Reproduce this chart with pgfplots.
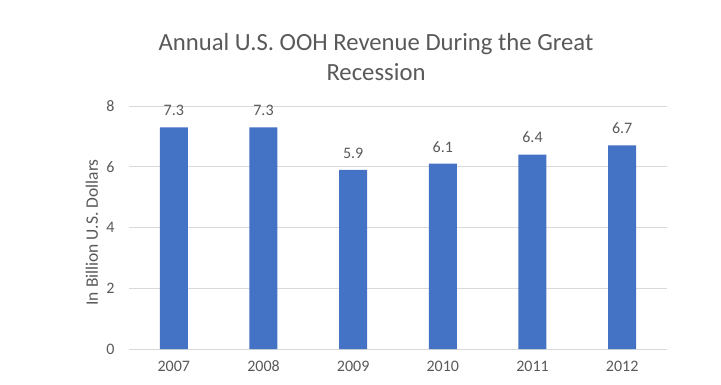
\documentclass[border=0pt]{standalone}
\usepackage{pgfplots}
\pgfplotsset{compat=1.18}
\usepackage{fontspec}
\setmainfont{Carlito}
\definecolor{barblue}{HTML}{4472C4}
\definecolor{txtgray}{HTML}{595959}
\definecolor{gridgray}{HTML}{D9D9D9}
\begin{document}
\begin{tikzpicture}[x=1pt,y=1pt]
\path[use as bounding box] (0,0) rectangle (721,384);
\node[txtgray,font=\fontsize{24.7}{30}\selectfont,align=center] at (376,327) {Annual U.S. OOH Revenue During the Great\\Recession};
\begin{axis}[
  at={(129pt,35pt)}, anchor=south west,
  scale only axis, width=538pt, height=243pt,
  xmin=-0.5, xmax=5.5, ymin=0, ymax=8,
  xtick={0,1,2,3,4,5},
  xticklabels={2007,2008,2009,2010,2011,2012},
  ytick={0,2,4,6,8},
  ymajorgrids, grid style={gridgray, line width=0.8pt},
  axis line style={draw=none},
  axis x line*=bottom,
  x axis line style={gridgray, line width=0.8pt},
  major tick length=0pt,
  tick label style={txtgray, font=\fontsize{16}{19}\selectfont},
  /pgf/number format/assume math mode=true,
  yticklabel style={xshift=-11pt},
  xticklabel style={anchor=north, text height=11pt, text depth=0pt, yshift=-8pt},
  ylabel={In Billion U.S. Dollars},
  ylabel style={txtgray, font=\fontsize{17.5}{21}\selectfont, at={(axis description cs:-0.069,0.48)}, anchor=center},
  ybar, bar width=28pt,
  nodes near coords,
  nodes near coords style={txtgray, font=\fontsize{16}{19}\selectfont, /pgf/number format/fixed, /pgf/number format/precision=1, /pgf/number format/fixed zerofill, yshift=8pt},
  clip=false,
]
\addplot[fill=barblue, draw=none] coordinates {(0,7.3) (1,7.3) (2,5.9) (3,6.1) (4,6.4) (5,6.7)};
\end{axis}
\end{tikzpicture}
\end{document}
